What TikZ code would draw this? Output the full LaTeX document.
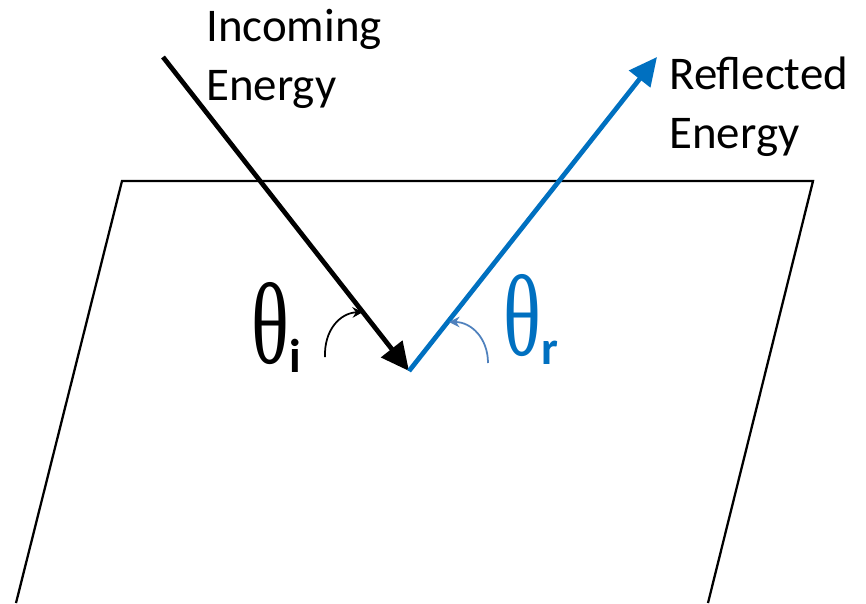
\documentclass[tikz,border=0pt]{standalone}
\usepackage{fontspec}
\setmainfont{Carlito}
\newfontfamily\thetafont{Liberation Serif}
\usetikzlibrary{arrows.meta,positioning}
\definecolor{reflblue}{RGB}{0,112,192}
\definecolor{arcblue}{RGB}{79,129,189}
\tikzset{
  surface/.style={draw=black, line width=1.3pt, line join=miter},
  ray/.style={line width=2.7pt, -{Triangle[length=16pt, width=15pt]}},
  anglearc/.style={line width=1pt, -{Stealth[length=6pt, width=6pt, inset=2pt]}},
  caption/.style={align=left, inner sep=0pt, anchor=base west,
    font=\fontsize{26.7}{33.5}\selectfont},
  anglelabel/.style={inner sep=0pt, anchor=base west,
    font=\fontsize{66}{66}\selectfont}
}
\newcommand{\thetasym}{\scalebox{0.68}[1]{\thetafont θ}}
\newcommand{\subsc}[1]{\raisebox{-5.5pt}{\fontsize{27}{27}\selectfont\bfseries #1}}

\begin{document}
\begin{tikzpicture}[x=0.02cm, y=-0.02cm]
  \useasboundingbox (0,0) rectangle (866,603);

  % surface
  \coordinate (bl) at (16,603);
  \coordinate (tl) at (122,181);
  \coordinate (tr) at (813,181);
  \coordinate (br) at (708,603);
  \draw[surface] (bl) -- (tl) -- (tr) -- (br);

  % rays
  \coordinate (src) at (163,57);
  \coordinate (hit) at (409,371);
  \coordinate (out) at (657,57);
  \draw[ray, black] (src) -- (hit);
  \draw[ray, reflblue] (hit) -- (out);

  % angle arcs
  \coordinate (ai) at (325,357);
  \coordinate (ar) at (488,363);
  \draw[anglearc, black] (ai) .. controls (324,330) and (340,313) .. (363,312);
  \draw[anglearc, arcblue] (ar) .. controls (488,338) and (471,322) .. (449,322);

  % labels
  \node[caption] (incoming) at (206,100) {Incoming\\Energy};
  \node[caption] (reflected) at (669,148) {Reflected\\Energy};
  \node[anglelabel] (thetai) at (251,363) {\thetasym\subsc{i}};
  \node[anglelabel, text=reflblue] (thetar) at (503,355) {\thetasym\subsc{r}};
\end{tikzpicture}
\end{document}
